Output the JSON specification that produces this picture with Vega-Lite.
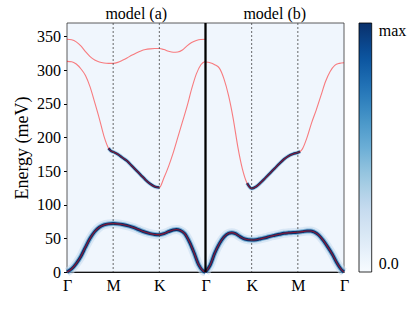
{
  "$schema": "https://vega.github.io/schema/vega-lite/v6.json",
  "width": 277,
  "height": 249,
  "autosize": "none",
  "padding": {"left": 67, "top": 23, "right": 71, "bottom": 39},
  "config": {
    "font": "Liberation Serif",
    "view": {"stroke": null},
    "axis": {"labelFont": "Liberation Serif", "titleFont": "Liberation Serif", "labelColor": "#000", "titleColor": "#000", "domainColor": "#000", "tickColor": "#000", "grid": false, "zindex": 1, "labelFlush": false, "labelOverlap": false, "labelFontSize": 16},
    "axisX": {"values": [0, 1, 2, 3, 4, 5, 6], "labelExpr": "['Γ','M','K','Γ','K','M','Γ'][datum.value]", "title": null, "ticks": false, "labelPadding": 5},
    "axisY": {"values": [0, 50, 100, 150, 200, 250, 300, 350], "titleFontSize": 18, "titleFontWeight": "normal", "tickSize": 3.5, "labelPadding": 3, "titlePadding": 5}
  },
  "datasets": {
    "bg": [{"k0": 0, "k1": 6, "E0": 0, "E1": 370, "I": 0.035}],
    "bands": [
      {"panel":"a","band":"low","k":0,"E":0,"w":1},
      {"panel":"a","band":"low","k":0.1,"E":4.5,"w":1},
      {"panel":"a","band":"low","k":0.2,"E":12.5,"w":1},
      {"panel":"a","band":"low","k":0.3,"E":23,"w":1},
      {"panel":"a","band":"low","k":0.4,"E":37,"w":1},
      {"panel":"a","band":"low","k":0.5,"E":50,"w":1},
      {"panel":"a","band":"low","k":0.6,"E":60,"w":1},
      {"panel":"a","band":"low","k":0.7,"E":66.5,"w":1},
      {"panel":"a","band":"low","k":0.8,"E":70,"w":1},
      {"panel":"a","band":"low","k":0.9,"E":71.5,"w":1},
      {"panel":"a","band":"low","k":1.0,"E":72,"w":1},
      {"panel":"a","band":"low","k":1.1,"E":71.5,"w":1},
      {"panel":"a","band":"low","k":1.2,"E":70.5,"w":1},
      {"panel":"a","band":"low","k":1.3,"E":69,"w":1},
      {"panel":"a","band":"low","k":1.4,"E":67,"w":1},
      {"panel":"a","band":"low","k":1.5,"E":64.5,"w":1},
      {"panel":"a","band":"low","k":1.6,"E":61.5,"w":1},
      {"panel":"a","band":"low","k":1.7,"E":59,"w":1},
      {"panel":"a","band":"low","k":1.8,"E":57,"w":1},
      {"panel":"a","band":"low","k":1.9,"E":55.8,"w":1},
      {"panel":"a","band":"low","k":2.0,"E":55.5,"w":1},
      {"panel":"a","band":"low","k":2.1,"E":57,"w":1},
      {"panel":"a","band":"low","k":2.2,"E":60,"w":1},
      {"panel":"a","band":"low","k":2.3,"E":62.5,"w":1},
      {"panel":"a","band":"low","k":2.37,"E":63.2,"w":1},
      {"panel":"a","band":"low","k":2.45,"E":62,"w":1},
      {"panel":"a","band":"low","k":2.55,"E":57,"w":1},
      {"panel":"a","band":"low","k":2.65,"E":45,"w":1},
      {"panel":"a","band":"low","k":2.75,"E":29,"w":1},
      {"panel":"a","band":"low","k":2.85,"E":11,"w":1},
      {"panel":"a","band":"low","k":2.95,"E":1.5,"w":1},
      {"panel":"a","band":"low","k":3.0,"E":0,"w":1},

      {"panel":"a","band":"mid","k":0,"E":313,"w":0},
      {"panel":"a","band":"mid","k":0.1,"E":312.5,"w":0},
      {"panel":"a","band":"mid","k":0.2,"E":309,"w":0},
      {"panel":"a","band":"mid","k":0.3,"E":302,"w":0},
      {"panel":"a","band":"mid","k":0.4,"E":292,"w":0},
      {"panel":"a","band":"mid","k":0.5,"E":275,"w":0},
      {"panel":"a","band":"mid","k":0.6,"E":252,"w":0},
      {"panel":"a","band":"mid","k":0.7,"E":228,"w":0},
      {"panel":"a","band":"mid","k":0.8,"E":202,"w":0},
      {"panel":"a","band":"mid","k":0.9,"E":184,"w":1},
      {"panel":"a","band":"mid","k":0.95,"E":180,"w":1},
      {"panel":"a","band":"mid","k":1.0,"E":178.5,"w":1},
      {"panel":"a","band":"mid","k":1.1,"E":175,"w":1},
      {"panel":"a","band":"mid","k":1.2,"E":170,"w":1},
      {"panel":"a","band":"mid","k":1.3,"E":165,"w":1},
      {"panel":"a","band":"mid","k":1.4,"E":158,"w":1},
      {"panel":"a","band":"mid","k":1.5,"E":151,"w":1},
      {"panel":"a","band":"mid","k":1.6,"E":144,"w":1},
      {"panel":"a","band":"mid","k":1.7,"E":137,"w":1},
      {"panel":"a","band":"mid","k":1.8,"E":131,"w":1},
      {"panel":"a","band":"mid","k":1.9,"E":127,"w":1},
      {"panel":"a","band":"mid","k":2.0,"E":125.5,"w":1},
      {"panel":"a","band":"mid","k":2.1,"E":140,"w":0},
      {"panel":"a","band":"mid","k":2.2,"E":157,"w":0},
      {"panel":"a","band":"mid","k":2.3,"E":177,"w":0},
      {"panel":"a","band":"mid","k":2.4,"E":200,"w":0},
      {"panel":"a","band":"mid","k":2.5,"E":223,"w":0},
      {"panel":"a","band":"mid","k":2.6,"E":246,"w":0},
      {"panel":"a","band":"mid","k":2.7,"E":272,"w":0},
      {"panel":"a","band":"mid","k":2.8,"E":294,"w":0},
      {"panel":"a","band":"mid","k":2.9,"E":308,"w":0},
      {"panel":"a","band":"mid","k":3.0,"E":313,"w":0},

      {"panel":"a","band":"top","k":0,"E":345.8,"w":0},
      {"panel":"a","band":"top","k":0.1,"E":345,"w":0},
      {"panel":"a","band":"top","k":0.2,"E":342,"w":0},
      {"panel":"a","band":"top","k":0.3,"E":336,"w":0},
      {"panel":"a","band":"top","k":0.4,"E":327.5,"w":0},
      {"panel":"a","band":"top","k":0.5,"E":320,"w":0},
      {"panel":"a","band":"top","k":0.6,"E":315,"w":0},
      {"panel":"a","band":"top","k":0.7,"E":312,"w":0},
      {"panel":"a","band":"top","k":0.8,"E":310.5,"w":0},
      {"panel":"a","band":"top","k":0.9,"E":310,"w":0},
      {"panel":"a","band":"top","k":1.0,"E":310,"w":0},
      {"panel":"a","band":"top","k":1.1,"E":311.5,"w":0},
      {"panel":"a","band":"top","k":1.2,"E":314.5,"w":0},
      {"panel":"a","band":"top","k":1.3,"E":318,"w":0},
      {"panel":"a","band":"top","k":1.4,"E":322,"w":0},
      {"panel":"a","band":"top","k":1.5,"E":325.5,"w":0},
      {"panel":"a","band":"top","k":1.6,"E":328.5,"w":0},
      {"panel":"a","band":"top","k":1.7,"E":330.5,"w":0},
      {"panel":"a","band":"top","k":1.8,"E":331.5,"w":0},
      {"panel":"a","band":"top","k":1.9,"E":332,"w":0},
      {"panel":"a","band":"top","k":2.0,"E":332,"w":0},
      {"panel":"a","band":"top","k":2.1,"E":330.5,"w":0},
      {"panel":"a","band":"top","k":2.2,"E":328,"w":0},
      {"panel":"a","band":"top","k":2.3,"E":326.5,"w":0},
      {"panel":"a","band":"top","k":2.4,"E":327,"w":0},
      {"panel":"a","band":"top","k":2.5,"E":330,"w":0},
      {"panel":"a","band":"top","k":2.6,"E":336,"w":0},
      {"panel":"a","band":"top","k":2.7,"E":341,"w":0},
      {"panel":"a","band":"top","k":2.8,"E":344,"w":0},
      {"panel":"a","band":"top","k":2.9,"E":345.5,"w":0},
      {"panel":"a","band":"top","k":3.0,"E":345.8,"w":0},

      {"panel":"b","band":"low","k":3.0,"E":0,"w":1},
      {"panel":"b","band":"low","k":3.1,"E":10,"w":1},
      {"panel":"b","band":"low","k":3.2,"E":28,"w":1},
      {"panel":"b","band":"low","k":3.3,"E":42,"w":1},
      {"panel":"b","band":"low","k":3.4,"E":52,"w":1},
      {"panel":"b","band":"low","k":3.5,"E":57.5,"w":1},
      {"panel":"b","band":"low","k":3.57,"E":58.5,"w":1},
      {"panel":"b","band":"low","k":3.65,"E":57,"w":1},
      {"panel":"b","band":"low","k":3.75,"E":52.5,"w":1},
      {"panel":"b","band":"low","k":3.85,"E":49,"w":1},
      {"panel":"b","band":"low","k":4.0,"E":47.5,"w":1},
      {"panel":"b","band":"low","k":4.1,"E":48,"w":1},
      {"panel":"b","band":"low","k":4.2,"E":49.5,"w":1},
      {"panel":"b","band":"low","k":4.3,"E":51,"w":1},
      {"panel":"b","band":"low","k":4.4,"E":53,"w":1},
      {"panel":"b","band":"low","k":4.5,"E":54.5,"w":1},
      {"panel":"b","band":"low","k":4.6,"E":56,"w":1},
      {"panel":"b","band":"low","k":4.7,"E":57.5,"w":1},
      {"panel":"b","band":"low","k":4.8,"E":58.2,"w":1},
      {"panel":"b","band":"low","k":4.9,"E":58.7,"w":1},
      {"panel":"b","band":"low","k":5.0,"E":59,"w":1},
      {"panel":"b","band":"low","k":5.1,"E":60,"w":1},
      {"panel":"b","band":"low","k":5.2,"E":61,"w":1},
      {"panel":"b","band":"low","k":5.28,"E":61,"w":1},
      {"panel":"b","band":"low","k":5.35,"E":59.5,"w":1},
      {"panel":"b","band":"low","k":5.45,"E":55,"w":1},
      {"panel":"b","band":"low","k":5.55,"E":47,"w":1},
      {"panel":"b","band":"low","k":5.65,"E":37,"w":1},
      {"panel":"b","band":"low","k":5.75,"E":26,"w":1},
      {"panel":"b","band":"low","k":5.85,"E":13,"w":1},
      {"panel":"b","band":"low","k":5.95,"E":3,"w":1},
      {"panel":"b","band":"low","k":6.0,"E":0,"w":1},

      {"panel":"b","band":"mid","k":3.0,"E":312,"w":0},
      {"panel":"b","band":"mid","k":3.1,"E":311,"w":0},
      {"panel":"b","band":"mid","k":3.2,"E":308,"w":0},
      {"panel":"b","band":"mid","k":3.3,"E":303,"w":0},
      {"panel":"b","band":"mid","k":3.4,"E":287,"w":0},
      {"panel":"b","band":"mid","k":3.5,"E":262,"w":0},
      {"panel":"b","band":"mid","k":3.6,"E":228,"w":0},
      {"panel":"b","band":"mid","k":3.7,"E":186,"w":0},
      {"panel":"b","band":"mid","k":3.8,"E":153,"w":0},
      {"panel":"b","band":"mid","k":3.9,"E":132,"w":1},
      {"panel":"b","band":"mid","k":4.0,"E":124,"w":1},
      {"panel":"b","band":"mid","k":4.1,"E":127,"w":1},
      {"panel":"b","band":"mid","k":4.2,"E":133,"w":1},
      {"panel":"b","band":"mid","k":4.3,"E":140,"w":1},
      {"panel":"b","band":"mid","k":4.4,"E":147,"w":1},
      {"panel":"b","band":"mid","k":4.5,"E":154,"w":1},
      {"panel":"b","band":"mid","k":4.6,"E":161,"w":1},
      {"panel":"b","band":"mid","k":4.7,"E":167.5,"w":1},
      {"panel":"b","band":"mid","k":4.8,"E":172.5,"w":1},
      {"panel":"b","band":"mid","k":4.9,"E":175.5,"w":1},
      {"panel":"b","band":"mid","k":5.0,"E":177.5,"w":1},
      {"panel":"b","band":"mid","k":5.05,"E":179,"w":1},
      {"panel":"b","band":"mid","k":5.1,"E":183,"w":0},
      {"panel":"b","band":"mid","k":5.2,"E":200,"w":0},
      {"panel":"b","band":"mid","k":5.3,"E":222,"w":0},
      {"panel":"b","band":"mid","k":5.4,"E":241,"w":0},
      {"panel":"b","band":"mid","k":5.5,"E":262,"w":0},
      {"panel":"b","band":"mid","k":5.6,"E":283,"w":0},
      {"panel":"b","band":"mid","k":5.7,"E":298,"w":0},
      {"panel":"b","band":"mid","k":5.8,"E":307,"w":0},
      {"panel":"b","band":"mid","k":5.9,"E":310,"w":0},
      {"panel":"b","band":"mid","k":6.0,"E":311,"w":0}
    ],
    "sym": [{"k": 1}, {"k": 2}, {"k": 4}, {"k": 5}],
    "titles": [{"k": 1.5, "E": 375.5, "label": "model (a)"}, {"k": 4.5, "E": 375.5, "label": "model (b)"}]
  },
  "layer": [
    {
      "data": {"name": "bg"},
      "mark": {"type": "rect", "stroke": "#333", "strokeWidth": 0.8},
      "encoding": {
        "x": {"field": "k0", "type": "quantitative", "scale": {"domain": [0, 6], "nice": false, "zero": false}, "title": null},
        "x2": {"field": "k1"},
        "y": {"field": "E0", "type": "quantitative", "scale": {"domain": [0, 370], "nice": false}, "title": "Energy (meV)"},
        "y2": {"field": "E1"},
        "color": {"field": "I", "type": "quantitative",
          "scale": {"domain": [0, 0.125, 0.25, 0.375, 0.5, 0.625, 0.75, 0.875, 1], "range": ["#f7fbff", "#deebf7", "#c6dbef", "#9ecae1", "#6baed6", "#4292c6", "#2171b5", "#08519c", "#08306b"]},
          "legend": {"title": null, "orient": "none", "legendX": 292, "legendY": 0, "direction": "vertical", "values": [0, 1], "labelExpr": "datum.value == 0 ? '0.0' : 'max'", "gradientLength": 249, "gradientThickness": 12.7, "gradientStrokeColor": "#000", "gradientStrokeWidth": 0.8, "labelFont": "Liberation Serif", "labelFontSize": 16, "labelBaseline": "middle", "labelOffset": 7, "labelColor": "#000", "padding": 0}}
      }
    },
    {
      "data": {"name": "bands"},
      "transform": [{"filter": "datum.w == 1 && datum.band == 'low'"}],
      "mark": {"type": "line", "interpolate": "monotone", "strokeWidth": 9, "color": "#c6dbef", "opacity": 0.55},
      "encoding": {"x": {"field": "k", "type": "quantitative", "title": null}, "y": {"field": "E", "type": "quantitative", "title": "Energy (meV)"}, "detail": [{"field": "panel"}, {"field": "band"}]}
    },
    {
      "data": {"name": "bands"},
      "transform": [{"filter": "datum.w == 1 && datum.band == 'low'"}],
      "mark": {"type": "line", "interpolate": "monotone", "strokeWidth": 5, "color": "#4292c6", "opacity": 0.6},
      "encoding": {"x": {"field": "k", "type": "quantitative", "title": null}, "y": {"field": "E", "type": "quantitative", "title": "Energy (meV)"}, "detail": [{"field": "panel"}, {"field": "band"}]}
    },
    {
      "data": {"name": "bands"},
      "transform": [{"filter": "datum.w == 1 && datum.band == 'mid'"}],
      "mark": {"type": "line", "interpolate": "monotone", "strokeWidth": 4, "color": "#6baed6", "opacity": 0.5},
      "encoding": {"x": {"field": "k", "type": "quantitative", "title": null}, "y": {"field": "E", "type": "quantitative", "title": "Energy (meV)"}, "detail": [{"field": "panel"}, {"field": "band"}]}
    },
    {
      "data": {"name": "bands"},
      "transform": [{"filter": "datum.w == 1 && datum.band == 'low'"}],
      "mark": {"type": "line", "interpolate": "monotone", "strokeWidth": 3, "color": "#08306b"},
      "encoding": {"x": {"field": "k", "type": "quantitative", "title": null}, "y": {"field": "E", "type": "quantitative", "title": "Energy (meV)"}, "detail": [{"field": "panel"}, {"field": "band"}]}
    },
    {
      "data": {"name": "bands"},
      "transform": [{"filter": "datum.w == 1 && datum.band == 'mid'"}],
      "mark": {"type": "line", "interpolate": "monotone", "strokeWidth": 2.4, "color": "#08306b"},
      "encoding": {"x": {"field": "k", "type": "quantitative", "title": null}, "y": {"field": "E", "type": "quantitative", "title": "Energy (meV)"}, "detail": [{"field": "panel"}, {"field": "band"}]}
    },
    {
      "data": {"name": "bands"},
      "mark": {"type": "line", "interpolate": "monotone", "strokeWidth": 1.1, "color": "#ff0000", "opacity": 0.5},
      "encoding": {"x": {"field": "k", "type": "quantitative", "title": null}, "y": {"field": "E", "type": "quantitative", "title": "Energy (meV)"}, "detail": [{"field": "panel"}, {"field": "band"}]}
    },
    {
      "data": {"name": "sym"},
      "mark": {"type": "rule", "color": "#444", "strokeWidth": 0.8, "strokeDash": [2, 2]},
      "encoding": {"x": {"field": "k", "type": "quantitative", "title": null}}
    },
    {
      "data": {"values": [{}]},
      "mark": {"type": "rule", "color": "#000", "strokeWidth": 2.3},
      "encoding": {"x": {"datum": 3, "title": null}}
    },
    {
      "data": {"name": "titles"},
      "mark": {"type": "text", "font": "Liberation Serif", "fontSize": 16, "baseline": "alphabetic", "color": "#000"},
      "encoding": {"x": {"field": "k", "type": "quantitative", "title": null}, "y": {"field": "E", "type": "quantitative", "title": "Energy (meV)"}, "text": {"field": "label"}}
    }
  ]
}
